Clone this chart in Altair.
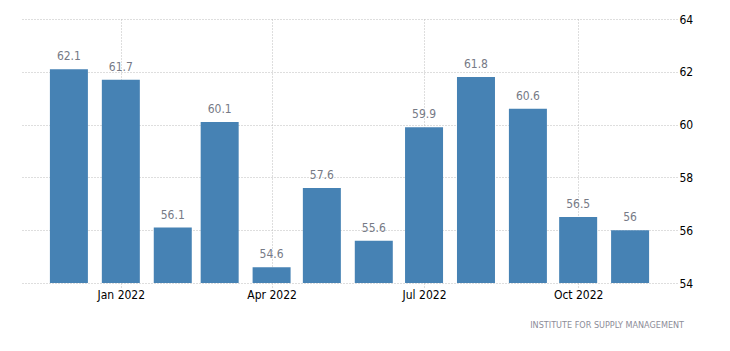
import altair as alt
import pandas as pd

months = ["2021-12-01", "2022-01-01", "2022-02-01", "2022-03-01", "2022-04-01", "2022-05-01",
          "2022-06-01", "2022-07-01", "2022-08-01", "2022-09-01", "2022-10-01", "2022-11-01"]
values = [62.1, 61.7, 56.1, 60.1, 54.6, 57.6, 55.6, 59.9, 61.8, 60.6, 56.5, 56]
labels = ["62.1", "61.7", "56.1", "60.1", "54.6", "57.6", "55.6", "59.9", "61.8", "60.6", "56.5", "56"]
y_ticks = [54, 56, 58, 60, 62, 64]
source_text = ["INSTITUTE FOR SUPPLY MANAGEMENT"]

df = pd.DataFrame({"date": months, "value": values, "label": labels})
src = pd.DataFrame({"t": source_text})

FONT = "DejaVu Sans Condensed"
GRID = "#bdbdbd"

xscale = alt.Scale(type="utc", padding=0,
                   domain=[alt.DateTime(year=2021, month=11, date=3, utc=True),
                           alt.DateTime(year=2022, month=11, date=29, utc=True)])
xaxis = alt.Axis(values=[alt.DateTime(year=2022, month=m, date=1, utc=True) for m in (1, 4, 7, 10)],
                 labelExpr="utcFormat(datum.value, '%b %Y')", title=None, domain=False,
                 grid=True, gridColor=GRID, gridDash=[1, 2], gridWidth=1,
                 tickColor=GRID, tickDash=[1, 2], tickSize=4, labelPadding=2,
                 labelFont=FONT, labelFontSize=12, labelColor="#000000")
yscale = alt.Scale(domain=[54, 64], zero=False, nice=False, padding=0)
yaxis = alt.Axis(orient="right", values=y_ticks, title=None, domain=False, ticks=False,
                 grid=True, gridColor=GRID, gridDash=[1, 2], labelPadding=2,
                 labelFont=FONT, labelFontSize=12, labelColor="#000000")

base = alt.Chart(df)
bars = base.mark_bar(color="#4682b4", size=38).encode(
    x=alt.X("date:T", scale=xscale, axis=xaxis),
    y=alt.Y("value:Q", scale=yscale, axis=yaxis),
    y2=alt.datum(54),
)
text = base.mark_text(baseline="bottom", dy=-6, font=FONT, fontSize=12, color="#767a86").encode(
    x=alt.X("date:T", scale=xscale),
    y=alt.Y("value:Q", scale=yscale),
    text="label:N",
)
source = alt.Chart(src).mark_text(align="right", baseline="middle", font=FONT, fontSize=9,
                                  color="#8c8c98").encode(
    x=alt.value(662), y=alt.value(306), text="t:N")

chart = alt.layer(bars, text, source).properties(
    width=655, height=264,
    background="white",
    autosize=alt.AutoSizeParams(type="none"),
    padding={"left": 22, "top": 19, "right": 53, "bottom": 68},
).configure_view(strokeWidth=0, stroke="transparent")

chart.save("out.html", embed_options={"renderer": "svg", "actions": False})
